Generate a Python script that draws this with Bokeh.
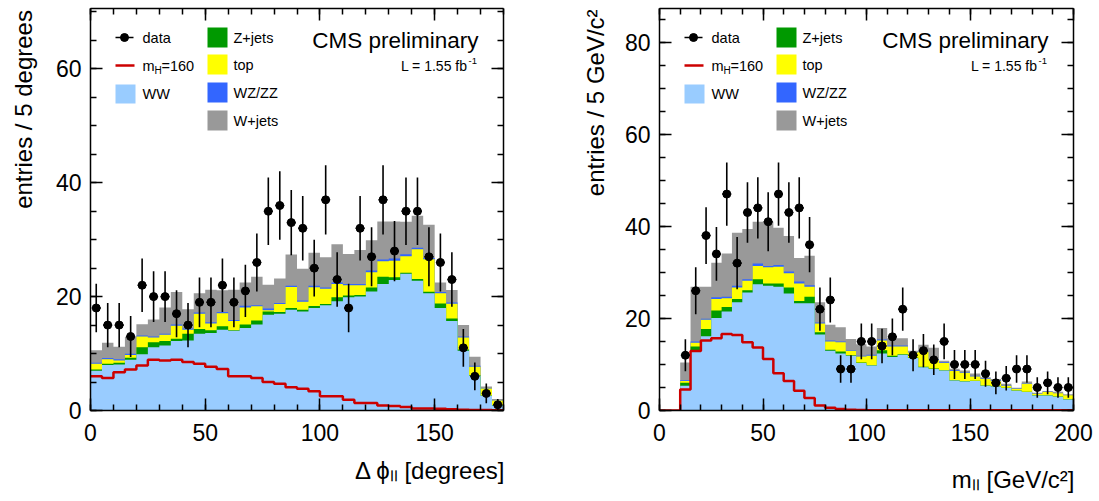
import numpy as np
from bokeh.plotting import figure
from bokeh.models import Range1d, LinearAxis, FixedTicker, Label, ColumnDataSource
from bokeh.layouts import row
from bokeh.embed import file_html
from bokeh.resources import INLINE

FONT = "Liberation Sans"
NBSP = "\u00a0"

# ---------------- Delta phi_ll (5 degree bins, 0..180) ----------------
dphi_edges = list(range(0, 185, 5))
dphi_data = [18, 15, 15, 13, 22, 20, 20, 17, 15, 19, 19, 22, 19, 21, 26, 35, 36, 33,
             32, 25, 37, 23, 18, 32, 27, 37, 28, 35, 35, 27, 26, 23, 11, 6, 3, 1]
dphi_ww = [7.0, 8.0, 8.1, 8.9, 9.9, 11.1, 11.4, 12.2, 12.3, 13.5, 13.6, 14.2, 14.0, 14.5, 15.1, 16.8, 17.0, 17.7,
           17.4, 18.0, 18.5, 19.2, 19.9, 20.0, 20.9, 22.2, 22.9, 24.0, 22.8, 20.6, 18.0, 15.7, 10.5, 6.1, 2.6, 0.9]
dphi_zjets = [0.2, 0.2, 0.3, 0.35, 1.2, 0.9, 0.8, 0.4, 1.2, 0.8, 0.5, 0.6, 0.1, 0.6, 0.7, 0.6, 0.3, 0.3,
              0.3, 0.35, 0.2, 0.7, 0.3, 0.3, 0.7, 1.3, 0.5, 0.2, 0.3, 0.25, 0.8, 0.45, 0.2, 0.1, 0.05, 0.05]
dphi_top = [1.0, 0.8, 0.4, 0.5, 1.9, 0.8, 1.1, 2.3, 0.7, 2.7, 1.2, 2.3, 1.6, 3.0, 2.5, 0.2, 1.4, 3.7,
            1.4, 3.3, 2.7, 2.3, 1.8, 1.7, 2.7, 2.7, 2.9, 2.9, 5.2, 5.7, 1.8, 2.6, 2.1, 1.5, 1.2, 0.8]
dphi_wzzz = [0.2, 0.2, 0.2, 0.2, 0.15, 0.2, 0.2, 0.2, 0.2, 0.2, 0.2, 0.2, 0.2, 0.3, 0.2, 0.3, 0.2, 0.2,
             0.2, 0.25, 0.2, 0.3, 0.2, 0.2, 0.3, 0.3, 0.4, 0.35, 0.3, 0.25, 0.2, 0.2, 0.2, 0.15, 0.1, 0.05]
dphi_wjets = [2.2, 2.7, 2.2, 3.0, 2.0, 3.0, 4.6, 5.7, 3.4, 3.4, 5.7, 3.8, 5.3, 4.1, 5.0, 4.2, 4.3, 5.5,
              5.6, 5.8, 5.3, 6.7, 5.3, 6.0, 5.3, 6.7, 6.5, 5.7, 5.6, 5.8, 1.7, 2.2, 2.0, 1.6, 0.25, 0.2]
dphi_higgs = [6.0, 5.7, 6.7, 7.2, 7.9, 8.9, 8.8, 8.9, 8.5, 8.2, 7.7, 7.3, 6.0, 6.0, 5.7, 5.0, 4.7, 4.1,
              3.8, 3.4, 2.5, 2.5, 1.9, 1.3, 1.3, 0.9, 0.8, 0.6, 0.35, 0.35, 0.3, 0.2, 0.15, 0.1, 0.1, 0.05]

# ---------------- m_ll (5 GeV bins, 0..200) ----------------
mll_edges = list(range(0, 205, 5))
mll_data = [0, 0, 12, 26, 38, 34, 47, 32, 43, 44, 41, 47, 43, 44, 36, 22, 24, 9, 9, 15,
            15, 14, 16, 22, 12, 13, 11, 15, 10, 10, 10, 8, 6, 7, 9, 9, 5, 6, 5, 5]
mll_ww = [0, 0, 5.4, 13.1, 16.1, 20.1, 21.5, 23.5, 25.6, 27.4, 27.1, 26.9, 25.4, 23.3, 23.3, 16.5, 13.0, 12.4, 11.9, 10.3,
          9.75, 12.4, 11.6, 12.1, 11.4, 9.4, 9.0, 8.7, 6.5, 6.3, 6.4, 5.4, 5.2, 4.9, 4.3, 4.0, 3.25, 3.25, 3.0, 2.4]
mll_zjets = [0, 0, 0.6, 0.8, 1.6, 1.6, 1.0, 0.7, 0.5, 1.1, 0.5, 0.7, 1.3, 0.5, 1.4, 0.5, 0.2, 0.4, 0.1, 0.1,
             0.1, 0.7, 0.3, 0.1, 0.1, 0.1, 0.1, 0.05, 0.05, 0.05, 0.05, 0.05, 0.05, 0.05, 0.05, 0.05, 0.05, 0.05, 0.05, 0.05]
mll_top = [0, 0, 0.4, 0.8, 2.0, 2.5, 1.9, 2.5, 2.1, 2.9, 3.5, 3.6, 3.1, 3.8, 2.2, 1.9, 1.8, 2.0, 1.0, 1.3,
           2.05, 2.1, 2.0, 1.7, 1.1, 3.3, 1.9, 1.55, 2.05, 1.85, 0.95, 1.4, 1.1, 0.45, 0.4, 1.75, 0.35, 0.7, 0.7, 0.85]
mll_wzzz = [0, 0, 0.15, 0.3, 0.2, 0.4, 0.3, 0.4, 0.3, 0.5, 0.3, 0.4, 0.4, 0.4, 0.3, 0.2, 0.2, 0.2, 0.15, 0.2,
            0.2, 0.2, 0.2, 0.2, 0.1, 0.2, 0.2, 0.2, 0.15, 0.15, 0.15, 0.1, 0.2, 0.1, 0.1, 0.1, 0.05, 0.05, 0.05, 0.05]
mll_wjets = [0, 0, 3.9, 11.9, 7.0, 7.5, 9.4, 11.5, 10.9, 9.1, 9.6, 8.1, 7.7, 5.1, 6.4, 4.4, 3.4, 3.1, 2.4, 2.5,
             1.8, 2.5, 1.6, 1.6, 0.3, 1.3, 2.4, 0.3, 0.3, 0.35, 0.5, 0.25, 0.3, 0.3, 0.1, 0.4, 0.15, 0.2, 0.25, 0.2]
mll_higgs = [0, 0, 4.55, 12.9, 15.2, 15.7, 16.6, 16.4, 14.8, 13.7, 11.2, 8.1, 6.4, 4.3, 2.7, 1.1, 0.6, 0.3, 0.15, 0.1,
             0.05, 0.05, 0.03, 0.03, 0.03, 0.03, 0.03, 0.03, 0.03, 0.03, 0.03, 0.03, 0.03, 0.03, 0.03, 0.03, 0.03, 0.03, 0.03, 0.03]

legend_names = ["data", "WW", "Z+jets", "top", "WZ/ZZ", "W+jets"]
C_WW, C_Z, C_TOP, C_WZ, C_WJ, C_H = "#99ccff", "#009900", "#ffff00", "#3366ff", "#999999", "#cc0000"


def step_poly(edges, vals):
    xs, ys = [edges[0]], [0.0]
    for i, v in enumerate(vals):
        xs += [edges[i], edges[i + 1]]
        ys += [v, v]
    xs.append(edges[-1])
    ys.append(0.0)
    return xs, ys


def style_axis(ax, ticker, labels=True, standoff=10):
    ax.ticker = ticker
    ax.axis_line_color = "black"
    ax.axis_line_width = 1.5
    ax.major_tick_line_color = "black"
    ax.minor_tick_line_color = "black"
    ax.major_tick_line_width = 1.5
    ax.minor_tick_line_width = 1.5
    ax.major_tick_in = 12
    ax.major_tick_out = 0
    ax.minor_tick_in = 6
    ax.minor_tick_out = 0
    ax.major_label_text_font = FONT
    ax.major_label_text_color = "black"
    if labels:
        ax.major_label_text_font_size = "23px"
        ax.major_label_standoff = standoff
    else:
        ax.major_label_overrides = {t: "" for t in ticker.ticks}
        ax.major_label_text_font_size = "0px"
        ax.major_label_standoff = 0


def axis_title(ax, text, pad, standoff):
    # the title is centred on the axis; leading no-break spaces push its visible
    # part to the far (right / top) end of the axis, as in the original layout
    ax.axis_label = NBSP * pad + text
    ax.axis_label_standoff = standoff
    ax.axis_label_text_font = FONT
    ax.axis_label_text_font_size = "24px"
    ax.axis_label_text_font_style = "normal"
    ax.axis_label_text_color = "black"


def make_panel(fig_w, page_x0, b_left, b_right, edges, data, layers, higgs,
               xmax, ymax, xticks, xminor, yticks, yminor, xtitle, ytitle):
    L = page_x0 + b_left
    T, H = 8, 402
    W = fig_w - b_left - b_right

    def cx(px):
        return (px - L) / W * xmax

    def cy(py):
        return (T + H - py) / H * ymax

    p = figure(width=fig_w, height=501, x_range=Range1d(0, xmax), y_range=Range1d(0, ymax),
               output_backend="svg", toolbar_location=None,
               min_border_left=b_left, min_border_right=b_right, min_border_top=T, min_border_bottom=501 - T - H)
    p.xgrid.visible = False
    p.ygrid.visible = False
    p.outline_line_color = None
    p.background_fill_color = "white"
    p.border_fill_color = "white"

    bottom_ax = p.below[0]
    left_ax = p.left[0]
    style_axis(bottom_ax, FixedTicker(ticks=xticks, minor_ticks=xminor), True, 13)
    style_axis(left_ax, FixedTicker(ticks=yticks, minor_ticks=yminor), True, 9)
    axis_title(bottom_ax, *xtitle)
    axis_title(left_ax, *ytitle)
    top_ax = LinearAxis()
    style_axis(top_ax, FixedTicker(ticks=xticks, minor_ticks=xminor), False)
    right_ax = LinearAxis()
    style_axis(right_ax, FixedTicker(ticks=yticks, minor_ticks=yminor), False)
    p.add_layout(top_ax, "above")
    p.add_layout(right_ax, "right")

    # stacked histograms
    cums = []
    cum = np.zeros(len(layers[0][0]))
    for vals, col in layers:
        cum = cum + np.array(vals, dtype=float)
        cums.append((cum.copy(), col))
    for cvals, col in reversed(cums):
        xs, ys = step_poly(edges, list(cvals))
        p.patch(xs, ys, fill_color=col, line_color=None)

    # signal
    p.step(x=edges, y=list(higgs) + [higgs[-1]], mode="after", line_color=C_H, line_width=2.5)

    # data
    centers = [(edges[i] + edges[i + 1]) / 2 for i in range(len(data))]
    sel = [i for i, n in enumerate(data) if n > 0]
    xsd = [centers[i] for i in sel]
    nd = np.array([data[i] for i in sel], dtype=float)
    err = np.sqrt(nd)
    hw = 4.5 / W * xmax
    src = ColumnDataSource(dict(x=xsd, y=nd, lo=nd - err, hi=nd + err,
                                xl=[x - hw for x in xsd], xr=[x + hw for x in xsd]))
    p.segment(x0="x", y0="lo", x1="x", y1="hi", source=src, line_color="black", line_width=1.6)
    p.segment(x0="xl", y0="y", x1="xr", y1="y", source=src, line_color="black", line_width=1.6)
    p.scatter(x="x", y="y", source=src, size=8, fill_color="black", line_color="black", marker="circle")

    def text(px, py, s, size, align="left", baseline="middle"):
        p.add_layout(Label(x=cx(px), y=cy(py), text=s, text_font=FONT, text_font_size=f"{size}px",
                           text_align=align, text_baseline=baseline, text_color="black"))

    # legend (positions in page pixels relative to frame left)
    o = L
    p.segment(x0=[cx(o + 25)], y0=[cy(37)], x1=[cx(o + 43)], y1=[cy(37)], line_color="black", line_width=1.6)
    p.scatter(x=[cx(o + 34)], y=[cy(37)], size=8, color="black")
    text(o + 52, 37, legend_names[0], 14.5)
    p.segment(x0=[cx(o + 25)], y0=[cy(65)], x1=[cx(o + 44)], y1=[cy(65)], line_color=C_H, line_width=2.5)
    text(o + 52, 65, "m", 14.5)
    text(o + 64, 70, "H", 10)
    text(o + 71, 65, "=160", 14.5)
    p.quad(left=[cx(o + 25)], right=[cx(o + 45)], top=[cy(84)], bottom=[cy(103)], fill_color=C_WW, line_color=None)
    text(o + 52, 93, legend_names[1], 14.5)
    for (yc, col, name) in [(37, C_Z, legend_names[2]), (64, C_TOP, legend_names[3]),
                            (92, C_WZ, legend_names[4]), (120, C_WJ, legend_names[5])]:
        p.quad(left=[cx(o + 117)], right=[cx(o + 137)], top=[cy(yc - 10)], bottom=[cy(yc + 10)],
               fill_color=col, line_color=None)
        text(o + 143, yc, name, 14.5)
    R = L + W
    text(R - 25, 40, "CMS preliminary", 22.5, align="right")
    text(R - 36, 65, "L = 1.55 fb", 14, align="right")
    text(R - 35, 60, "-1", 9.5)
    return p


# left panel
p1 = make_panel(560, 0, 90, 57, dphi_edges, dphi_data,
                [(dphi_ww, C_WW), (dphi_zjets, C_Z), (dphi_top, C_TOP), (dphi_wzzz, C_WZ), (dphi_wjets, C_WJ)],
                dphi_higgs, 180, 70.6, [0, 50, 100, 150], list(range(0, 181, 10)),
                [0, 20, 40, 60], list(range(0, 71, 5)),
                ("\u0394 \u03d5\u2097\u2097 [degrees]", 40, 13), ("entries / 5 degrees", 30, 16))

# right panel
p2 = make_panel(539, 560, 99, 26, mll_edges, mll_data,
                [(mll_ww, C_WW), (mll_zjets, C_Z), (mll_top, C_TOP), (mll_wzzz, C_WZ), (mll_wjets, C_WJ)],
                mll_higgs, 200, 87.3, [0, 50, 100, 150, 200], list(range(0, 201, 10)),
                [0, 20, 40, 60, 80], list(range(0, 88, 5)),
                ("m\u2097\u2097 [GeV/c\u00b2]", 44, 22), ("entries / 5 GeV/c\u00b2", 32, 13))

layout = row(p1, p2)
open("out.html", "w").write(file_html(layout, INLINE))
